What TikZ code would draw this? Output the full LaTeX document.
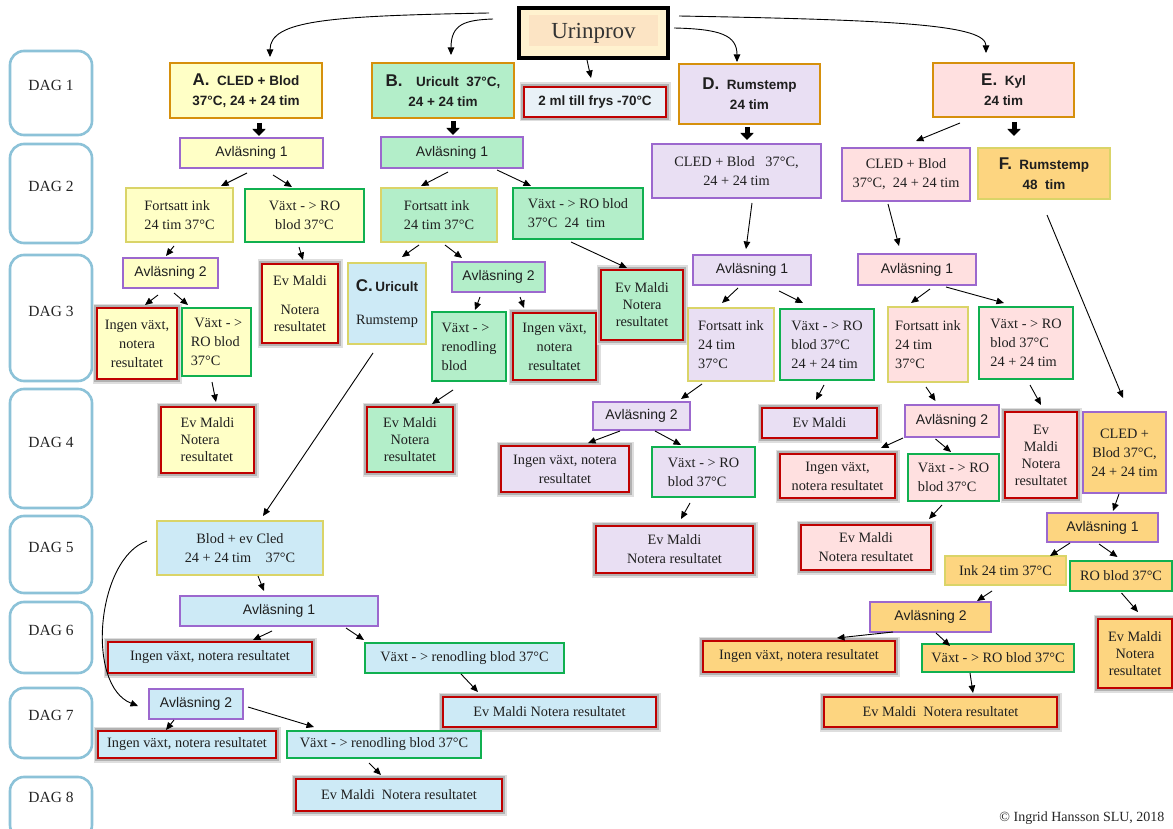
\documentclass[tikz,border=0pt]{standalone}
\usepackage{fontspec}
\setmainfont{Liberation Serif}
\setsansfont{Liberation Sans}
\usetikzlibrary{arrows.meta,calc}
\definecolor{dagc}{HTML}{8CC2D8}
\definecolor{orc}{HTML}{D6900C}
\definecolor{puc}{HTML}{9C68CE}
\definecolor{grc}{HTML}{10B050}
\definecolor{ylc}{HTML}{DAD468}
\definecolor{rdc}{HTML}{C00000}
\definecolor{fY}{HTML}{FFFFC6}
\definecolor{fG}{HTML}{B3EEC9}
\definecolor{fL}{HTML}{E9DFF3}
\definecolor{fP}{HTML}{FFE0E0}
\definecolor{fO}{HTML}{FDD580}
\definecolor{fB}{HTML}{CDEAF6}
\definecolor{fF}{HTML}{E9F1F7}
\definecolor{uOut}{HTML}{FFF2CF}
\definecolor{uIn}{HTML}{FCE4C4}
\newcommand\Arw[4]{\draw[arr] ([shift={#2}]#1.south) -- ([shift={#4}]#3.north);}
\begin{document}
\begin{tikzpicture}[x=1pt,y=-1pt,
 bx/.style args={#1/#2}{anchor=north west, minimum width=#1pt, minimum height=#2pt, inner sep=1pt, outer sep=0pt, line width=2.4pt, text=black!88, align=center},
 ser/.style={font=\fontsize{14.3}{19}\selectfont},
 serT/.style={font=\fontsize{14.3}{17}\selectfont},
 san/.style={font=\sffamily\fontsize{14}{18}\selectfont},
 bsan/.style={font=\sffamily\bfseries\fontsize{13.5}{20}\selectfont},
 oB/.style={draw=orc}, pB/.style={draw=puc}, gB/.style={draw=grc}, yB/.style={draw=ylc},
 rB/.style={draw=rdc, preaction={draw=black!13, line width=9pt}, preaction={draw=black!30, line width=6pt}},
 dagbox/.style={anchor=north west, minimum width=82pt, minimum height=#1pt, rounded corners=14pt, draw=dagc, line width=2.6pt, outer sep=0pt},
 daglab/.style={font=\fontsize{15.5}{18}\selectfont, text=black!85},
 arr/.style={line width=0.9pt, -{Triangle[length=7.5pt,width=6.5pt]}},
 blk/.style={line width=5pt, -{Triangle[length=7pt,width=13pt]}},
]
\fill[white] (0,0) rectangle (1173,829);
\useasboundingbox (0,0) rectangle (1173,829);

% DAG column
\node[dagbox=84] (d1) at (10,51) {};
\node[dagbox=99] (d2) at (10,144) {};
\node[dagbox=126] (d3) at (10,255) {};
\node[dagbox=119] (d4) at (10,389) {};
\node[dagbox=77] (d5) at (10,516) {};
\node[dagbox=71] (d6) at (10,602) {};
\node[dagbox=70] (d7) at (10,688) {};
\node[dagbox=62] (d8) at (10,777) {};
\node[daglab] (t1) at (51,85) {DAG 1};
\node[daglab] (t2) at (51,186) {DAG 2};
\node[daglab] (t3) at (51,311) {DAG 3};
\node[daglab] (t4) at (51,442) {DAG 4};
\node[daglab] (t5) at (51,547) {DAG 5};
\node[daglab] (t6) at (51,630) {DAG 6};
\node[daglab] (t7) at (51,715) {DAG 7};
\node[daglab] (t8) at (51,797) {DAG 8};

% top
\node[bx=149/50, draw=black, line width=3.6pt, fill=uOut, font=\fontsize{23}{26}\selectfont, text=black!80,
  path picture={\fill[uIn] ([shift={(10,7)}]path picture bounding box.north west) rectangle ([shift={(-10,-12)}]path picture bounding box.south east);}] (urin) at (519,8) {Urinprov};

\node[bx=152/55, oB, fill=fY, bsan] (A) at (170,63) {{\fontsize{17}{20}\selectfont A.}\ \ CLED + Blod\\37°C, 24 + 24 tim};
\node[bx=142/55, oB, fill=fG, bsan] (B) at (372,63) {{\fontsize{17}{20}\selectfont B.}\quad Uricult\ \ 37°C,\\24 + 24 tim};
\node[bx=142/30, rB, fill=fF, bsan] (frys) at (524,87) {2 ml till frys -70°C};
\node[bx=141/60, oB, fill=fL, bsan] (D) at (679,64) {{\fontsize{17}{20}\selectfont D.}\ \ Rumstemp\\24 tim};
\node[bx=141/54, oB, fill=fP, bsan] (E) at (933,63) {{\fontsize{17}{20}\selectfont E.}\ \ Kyl\\24 tim};
\node[bx=132/51, yB, fill=fO, bsan] (F) at (978,148) {{\fontsize{17}{20}\selectfont F.}\ \ Rumstemp\\48\ \ tim};

% row 2
\node[bx=143/30, pB, fill=fY, san] (avlA1) at (180,138) {Avläsning 1};
\node[bx=142/31, pB, fill=fG, san] (avlB1) at (381,137) {Avläsning 1};
\node[bx=169/54, pB, fill=fL, ser] (Dcled) at (652,144) {CLED + Blod\ \ \ 37°C,\\24 + 24 tim};
\node[bx=128/53, pB, fill=fP, ser] (Ecled) at (842,148) {CLED + Blod\\37°C,\ \ 24 + 24 tim};
\node[bx=107/54, yB, fill=fY, ser, align=left] (fortA) at (126,188) {Fortsatt ink\\24 tim 37°C};
\node[bx=119/53, gB, fill=fY, ser] (vaxA) at (245,189) {Växt - > RO\\blod 37°C};
\node[bx=116/54, yB, fill=fG, ser, align=left] (fortB) at (381,188) {Fortsatt ink\\24 tim 37°C};
\node[bx=130/51, gB, fill=fG, ser, align=left] (vaxB) at (513,188) {Växt - > RO blod\\37°C\ \ 24\ \ tim};

% A branch
\node[bx=95/30, pB, fill=fY, san] (avl2A) at (123,258) {Avläsning 2};
\node[bx=76/79, rB, fill=fY, serT] (malA) at (262,264) {Ev Maldi\\[12pt]Notera\\resultatet};
\node[bx=80/71, rB, fill=fY, ser] (ingA) at (97,308) {Ingen växt,\\notera\\resultatet};
\node[bx=69/68, gB, fill=fY, ser, align=left] (roA) at (182,308) {\ Växt - >\\RO blod\\37°C};
\node[bx=93/66, rB, fill=fY, serT, align=left] (mal2A) at (161,407) {Ev Maldi\\Notera\\resultatet};

% C
\node[bx=78/81, yB, fill=fB, ser] (C) at (348,263) {{\sffamily\bfseries\fontsize{17}{20}\selectfont C.}\,{\sffamily\bfseries\fontsize{13.5}{20}\selectfont Uricult}\\[14pt]Rumstemp};

% B branch
\node[bx=93/30, pB, fill=fG, san] (avl2B) at (452,262) {Avläsning 2};
\node[bx=74/69, gB, fill=fG, ser, align=left] (vrenB) at (432,312) {Växt - >\\renodling\\blod};
\node[bx=83/67, rB, fill=fG, ser] (ingB) at (513,313) {Ingen växt,\\notera\\resultatet};
\node[bx=86/65, rB, fill=fG, serT] (malB) at (367,407) {Ev Maldi\\Notera\\resultatet};
\node[bx=82/70, rB, fill=fG, serT] (malB2) at (601,270) {Ev Maldi\\Notera\\resultatet};

% D branch
\node[bx=118/30, pB, fill=fL, san] (avlD1) at (693,255) {Avläsning 1};
\node[bx=86/73, yB, fill=fL, ser, align=left] (fortD) at (688,308) {Fortsatt ink\\24 tim\\37°C};
\node[bx=94/71, gB, fill=fL, ser, align=left] (vaxD) at (780,309) {Växt - > RO\\blod 37°C\\24 + 24 tim};
\node[bx=97/28, pB, fill=fL, san] (avl2D) at (593,402) {Avläsning 2};
\node[bx=115/30, rB, fill=fL, ser] (malD) at (762,408) {Ev Maldi};
\node[bx=128/46, rB, fill=fL, ser] (ingD) at (501,446) {Ingen växt, notera\\resultatet};
\node[bx=103/50, gB, fill=fL, ser, align=left] (vaxD2) at (652,447) {Växt - > RO\\blod 37°C};
\node[bx=157/47, rB, fill=fL, ser] (malD2) at (596,526) {Ev Maldi\\Notera resultatet};

% E branch
\node[bx=118/31, pB, fill=fP, san] (avlE1) at (858,254) {Avläsning 1};
\node[bx=80/75, yB, fill=fP, ser, align=left] (fortE) at (888,307) {Fortsatt ink\\24 tim\\37°C};
\node[bx=94/72, gB, fill=fP, ser, align=left] (vaxE) at (979,307) {Växt - > RO\\blod 37°C\\24 + 24 tim};
\node[bx=94/32, pB, fill=fP, san] (avl2E) at (905,405) {Avläsning 2};
\node[bx=72/86, rB, fill=fP, serT] (malE) at (1005,412) {Ev\\Maldi\\Notera\\resultatet};
\node[bx=115/44, rB, fill=fP, ser] (ingE) at (780,454) {Ingen växt,\\notera resultatet};
\node[bx=91/47, gB, fill=fP, ser, align=left] (vaxE2) at (908,454) {Växt - > RO\\blod 37°C};
\node[bx=130/45, rB, fill=fP, ser] (malE2) at (801,525) {Ev Maldi\\Notera resultatet};

% F branch
\node[bx=83/81, pB, fill=fO, ser] (Fcled) at (1083,412) {CLED +\\Blod 37°C,\\24 + 24 tim};
\node[bx=111/29, pB, fill=fO, san] (avlF1) at (1047,513) {Avläsning 1};
\node[bx=121/29, yB, fill=fO, ser] (inkF) at (945,556) {Ink 24 tim 37°C};
\node[bx=102/30, gB, fill=fO, ser] (roF) at (1070,561) {RO blod 37°C};
\node[bx=74/69, rB, fill=fO, serT] (malF) at (1098,619) {Ev Maldi\\Notera\\resultatet};
\node[bx=121/30, pB, fill=fO, san] (avl2F) at (870,602) {Avläsning 2};
\node[bx=192/31, rB, fill=fO, ser] (ingF) at (703,641) {Ingen växt, notera resultatet};
\node[bx=152/28, gB, fill=fO, ser] (vaxF) at (922,644) {Växt - > RO blod 37°C};
\node[bx=233/30, rB, fill=fO, ser] (malF2) at (824,697) {Ev Maldi\ \ Notera resultatet};

% C lower
\node[bx=166/54, yB, fill=fB, ser] (blodC) at (157,521) {Blod + ev Cled\\24 + 24 tim\ \ \ \ 37°C};
\node[bx=198/30, pB, fill=fB, san] (avlC1) at (180,596) {Avläsning 1};
\node[bx=204/31, rB, fill=fB, ser] (ingC) at (108,642) {Ingen växt, notera resultatet};
\node[bx=199/30, gB, fill=fB, ser] (vrenC) at (365,643) {Växt - > renodling blod 37°C};
\node[bx=213/30, rB, fill=fB, ser] (malC) at (443,697) {Ev Maldi Notera resultatet};
\node[bx=94/30, pB, fill=fB, san] (avl2C) at (149,689) {Avläsning 2};
\node[bx=178/27, rB, fill=fB, ser] (ingC2) at (98,731) {Ingen växt, notera resultatet};
\node[bx=194/27, gB, fill=fB, ser] (vrenC2) at (287,731) {Växt - > renodling blod 37°C};
\node[bx=206/32, rB, fill=fB, ser] (malC2) at (296,779) {Ev Maldi\ \ Notera resultatet};

\node[anchor=east, font=\fontsize{14}{16}\selectfont, text=black!85] (copy) at (1168,818) {© Ingrid Hansson SLU, 2018};

% curved connectors from Urinprov
\draw[arr] ([shift={(-30,5)}]urin.north west) .. controls +(-159,3) and +(0,-37) .. ([shift={(24,-6)}]A.north);
\draw[arr] ([shift={(-26,11)}]urin.north west) .. controls +(-28,1) and +(0,-31) .. ([shift={(8,-8)}]B.north);
\Arw{urin}{(-6.5,2)}{frys}{(-4,-9)}
\draw[arr] ([shift={(6,-5)}]urin.east) .. controls +(46,1) and +(0,-27) .. ([shift={(-12.5,-2)}]D.north);
\draw[arr] ([shift={(11,8)}]urin.north east) .. controls +(221,4) and +(0,-28) .. ([shift={(-17.5,-10)}]E.north);

% block arrows
\draw[blk] ([shift={(13,5)}]A.south) -- ([shift={(7.5,-2)}]avlA1.north);
\draw[blk] ([shift={(10,3)}]B.south) -- ([shift={(1,-2)}]avlB1.north);
\draw[blk] ([shift={(-2.5,3)}]D.south) -- ([shift={(10.5,-4)}]Dcled.north);
\draw[blk] ([shift={(10.5,5)}]E.south) -- ([shift={(-30,-12)}]F.north);

% A
\Arw{avlA1}{(-4.5,5)}{fortA}{(41.5,-2)}
\Arw{avlA1}{(21.5,7)}{vaxA}{(-12.5,-2)}
\Arw{fortA}{(-5.5,4)}{avl2A}{(-4.5,-2)}
\Arw{vaxA}{(-5.5,5)}{malA}{(3,-4)}
\Arw{avl2A}{(-12.5,7)}{ingA}{(8,-3)}
\Arw{avl2A}{(3.5,5)}{roA}{(-28.5,-3)}
\Arw{roA}{(-4.5,6)}{mal2A}{(8.5,-5)}
% B
\Arw{avlB1}{(-4,4)}{fortB}{(-18,-2)}
\Arw{avlB1}{(45,2)}{vaxB}{(-47,-2)}
\Arw{fortB}{(-20,3)}{C}{(15,-6)}
\Arw{fortB}{(6,3)}{avl2B}{(-36.5,-4)}
\Arw{C}{(-14,9)}{blodC}{(23,-5)}
\Arw{avl2B}{(-18.5,5)}{vrenB}{(6,-2)}
\Arw{avl2B}{(21.5,5)}{ingB}{(-30.5,-5)}
\Arw{vrenB}{(-16,9)}{malB}{(22,-3)}
\Arw{vaxB}{(-7,3)}{malB2}{(-15,-2)}
% D
\Arw{Dcled}{(15.5,5)}{avlD1}{(-6,-6)}
\Arw{avlD1}{(-14,3)}{fortD}{(-9,-5)}
\Arw{avlD1}{(27,6)}{vaxD}{(-24,-6)}
\Arw{fortD}{(-29,3)}{avl2D}{(39.5,-3)}
\Arw{vaxD}{(-3,5)}{malD}{(-3.5,-8)}
\Arw{avl2D}{(-21.5,1)}{ingD}{(23,-3)}
\Arw{avl2D}{(13.5,1)}{vaxD2}{(-22.5,-2)}
\Arw{vaxD2}{(-13.5,6)}{malD2}{(6.5,-7)}
% E
\Arw{E}{(-43.5,6)}{Ecled}{(10,-7)}
\Arw{Ecled}{(-18,3)}{avlE1}{(-18,-8)}
\Arw{avlE1}{(13,4)}{fortE}{(-17,-4)}
\Arw{avlE1}{(29,2)}{vaxE}{(-22,-4)}
\Arw{fortE}{(-2,5)}{avl2E}{(-16.5,-4)}
\Arw{vaxE}{(4,6)}{malE}{(0,-7)}
\Arw{avl2E}{(-49,1)}{ingE}{(43.5,-6)}
\Arw{avl2E}{(-16.5,2)}{vaxE2}{(-2.5,-2)}
\Arw{vaxE2}{(-11.5,4)}{malE2}{(63,-6)}
% F
\Arw{F}{(3,16)}{Fcled}{(-1.5,-14)}
\Arw{Fcled}{(-5.5,1)}{avlF1}{(10.5,-2)}
\Arw{avlF1}{(-32.5,1)}{inkF}{(44.5,0)}
\Arw{avlF1}{(-3.5,2)}{roF}{(-3.5,-4)}
\Arw{roF}{(0.5,2)}{malF}{(3,-7)}
\Arw{inkF}{(-13.5,6)}{avl2F}{(46.5,-1)}
\Arw{avl2F}{(-37.5,0)}{ingF}{(38,-3)}
\Arw{avl2F}{(5.5,1)}{vaxF}{(-48,2)}
\Arw{vaxF}{(-28,1)}{malF2}{(32.5,-4)}
% C lower
\Arw{blodC}{(18,1)}{avlC1}{(-15,-5)}
\Arw{avlC1}{(-7,5)}{ingC}{(43,-2)}
\Arw{avlC1}{(67,2)}{vrenC}{(-100.5,-3)}
\Arw{vrenC}{(-3.5,1)}{malC}{(-71.5,-5)}
\draw[arr] ([shift={(-10,-7)}]blodC.west) .. controls +(-50,17) and +(-53,-21) .. ([shift={(-11,2)}]avl2C.west);
\Arw{avl2C}{(-22,1)}{ingC2}{(-21,-1)}
\draw[arr] ([shift={(5,3)}]avl2C.east) -- ([shift={(-70,-4)}]vrenC2.north);
\Arw{vrenC2}{(-15,5)}{malC2}{(-18,-4)}
\end{tikzpicture}
\end{document}
